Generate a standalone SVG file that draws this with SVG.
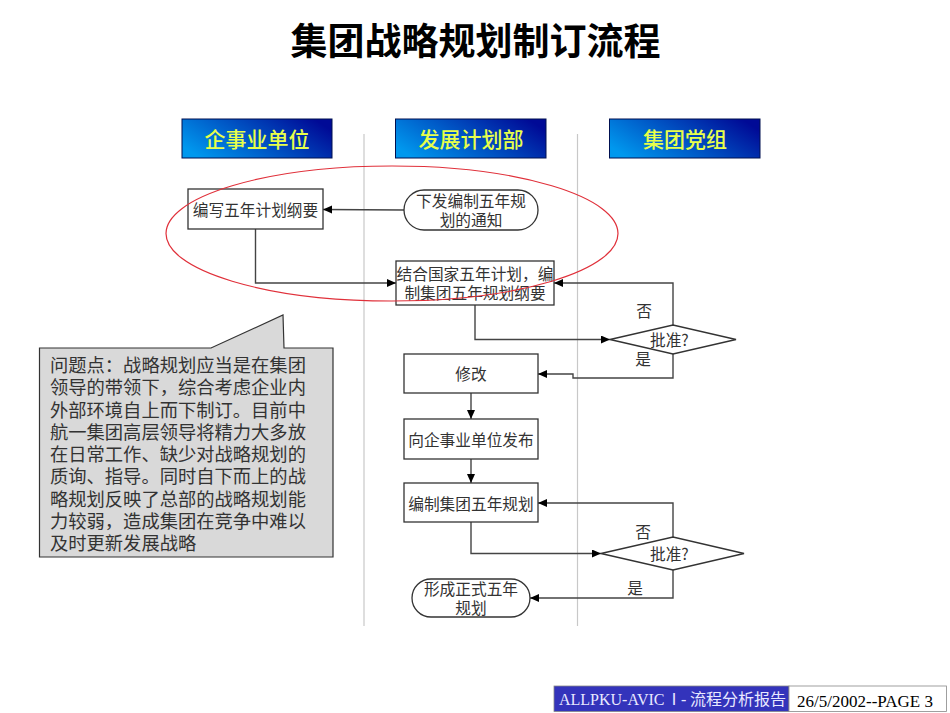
<svg xmlns="http://www.w3.org/2000/svg" width="950" height="713" viewBox="0 0 950 713">
<style>
text{font-family:"Noto Sans CJK SC","Liberation Serif",serif;fill:#333;text-anchor:middle}
.t{font-size:15.700px}
.h{font-size:21px;fill:#e8ff4a;font-weight:500}
.b{fill:#fff;stroke:#333;stroke-width:1.300}
.hd{fill:url(#g);stroke:#001050;stroke-width:1}
.c{fill:none;stroke:#444;stroke-width:1.400}
.l{font-size:18.300px;text-anchor:start}
</style>
<defs>
<linearGradient id="g" x1="0" y1="0.7" x2="1" y2="0.3"><stop offset="0" stop-color="#0098ee"/><stop offset="1" stop-color="#000a96"/></linearGradient>
<marker id="a" markerUnits="userSpaceOnUse" markerWidth="10" markerHeight="10" refX="9" refY="4" orient="auto"><path d="M0 0L9 4L0 8z" fill="#000"/></marker>
</defs>
<rect width="950" height="713" fill="#fff"/>
<text x="475.500" y="55" font-size="37" font-weight="700" style="fill:#000">集团战略规划制订流程</text>
<g id="dividers" stroke="#c8c8c8" stroke-width="1.200"><line x1="364" y1="134" x2="364" y2="626"/><line x1="577.500" y1="134" x2="577.500" y2="626"/></g>
<g id="header1"><rect class="hd" x="182" y="119" width="150" height="39"/><text class="h" x="257" y="147">企事业单位</text></g>
<g id="header2"><rect class="hd" x="395.500" y="119" width="150.500" height="39"/><text class="h" x="471" y="147">发展计划部</text></g>
<g id="header3"><rect class="hd" x="609.500" y="119" width="150.500" height="39"/><text class="h" x="685" y="147">集团党组</text></g>
<g id="connectors">
<path class="c" marker-end="url(#a)" d="M404 210L323 209.500"/>
<path class="c" marker-end="url(#a)" d="M255.500 229V283H396"/>
<path class="c" marker-end="url(#a)" d="M673 325V283H554"/>
<path class="c" marker-end="url(#a)" d="M475 305V339.500H610"/>
<path class="c" marker-end="url(#a)" d="M673 354V378H573V374H538"/>
<path class="c" marker-end="url(#a)" d="M471 393V419"/>
<path class="c" marker-end="url(#a)" d="M471 459V483"/>
<path class="c" marker-end="url(#a)" d="M471 522V553.500H601"/>
<path class="c" marker-end="url(#a)" d="M673 537V503H538"/>
<path class="c" marker-end="url(#a)" d="M673 570V598H530"/>
</g>
<g id="n1"><rect class="b" x="188" y="189" width="135" height="40"/><text class="t" x="255.500" y="216">编写五年计划纲要</text></g>
<g id="n2"><rect class="b" x="404" y="190" width="134" height="40" rx="20"/><text class="t"><tspan x="471" y="207">下发编制五年规</tspan><tspan x="471" y="226">划的通知</tspan></text></g>
<g id="n3"><rect class="b" x="396" y="261" width="158" height="44"/><text class="t"><tspan x="475" y="280">结合国家五年计划，编</tspan><tspan x="475" y="299">制集团五年规划纲要</tspan></text></g>
<g id="d1"><path class="b" d="M610 339.500L673 325L736 339.500L673 354z"/><text class="t" x="650" y="346" style="text-anchor:start">批准?</text></g>
<g id="n4"><rect class="b" x="404" y="354" width="134" height="39"/><text class="t" x="471" y="380">修改</text></g>
<g id="n5"><rect class="b" x="404" y="419" width="134" height="40"/><text class="t" x="471" y="446">向企事业单位发布</text></g>
<g id="n6"><rect class="b" x="404" y="483" width="134" height="39"/><text class="t" x="471" y="510">编制集团五年规划</text></g>
<g id="d2"><path class="b" d="M601 553.500L673 537L744 553.500L673 570z"/><text class="t" x="650" y="560" style="text-anchor:start">批准?</text></g>
<g id="n7"><rect class="b" x="412" y="579" width="118" height="38" rx="19"/><text class="t"><tspan x="471" y="595">形成正式五年</tspan><tspan x="471" y="614">规划</tspan></text></g>
<g id="labels"><text class="t" x="644" y="317">否</text><text class="t" x="643" y="365">是</text><text class="t" x="643" y="538">否</text><text class="t" x="635" y="594">是</text></g>
<g id="callout"><path d="M39.500 348H211L283 315L284 348H333V557H39.500z" fill="#d9d9d9" stroke="#333" stroke-width="1.200"/>
<text class="l"><tspan x="50" y="372">问题点：战略规划应当是在集团</tspan><tspan x="50" y="394.250">领导的带领下，综合考虑企业内</tspan><tspan x="50" y="416.500">外部环境自上而下制订。目前中</tspan><tspan x="50" y="438.750">航一集团高层领导将精力大多放</tspan><tspan x="50" y="461">在日常工作、缺少对战略规划的</tspan><tspan x="50" y="483.250">质询、指导。同时自下而上的战</tspan><tspan x="50" y="505.500">略规划反映了总部的战略规划能</tspan><tspan x="50" y="527.750">力较弱，造成集团在竞争中难以</tspan><tspan x="50" y="550">及时更新发展战略</tspan></text></g>
<ellipse id="ring" cx="392" cy="233.500" rx="226" ry="67.500" fill="none" stroke="#e0303a" stroke-width="1.200"/>
<g id="footer"><rect x="554" y="686" width="235" height="25.500" fill="#3333bb" stroke="#888" stroke-width="0.800"/><rect x="789" y="686" width="157.500" height="25.500" fill="#fff" stroke="#888" stroke-width="0.800"/>
<text y="705" font-size="16" style="fill:#e8e8ff;text-anchor:start;font-family:'Liberation Serif','Noto Sans CJK SC',serif"><tspan x="559">ALLPKU-AVIC</tspan><tspan x="666" style="font-family:'Noto Sans CJK SC',sans-serif">Ⅰ</tspan><tspan x="681">-</tspan><tspan x="690" style="font-family:'Noto Sans CJK SC',sans-serif">流程分析报告</tspan></text>
<text x="865" y="707" font-size="17" style="fill:#000;font-family:'Liberation Serif',serif">26/5/2002--PAGE 3</text></g>
</svg>
